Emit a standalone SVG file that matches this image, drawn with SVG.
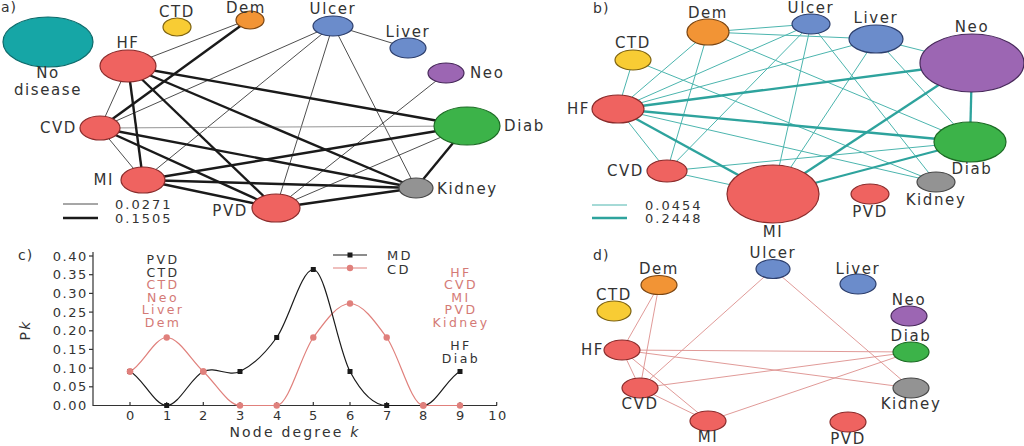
<svg xmlns="http://www.w3.org/2000/svg" width="1024" height="446" viewBox="0 0 1024 446">
<style>
text{font-family:"DejaVu Sans","Liberation Sans",sans-serif;fill:#333;}
.lb{font-size:15px;letter-spacing:1.6px;}
.pl{font-size:14px;letter-spacing:1px;}
.num{font-size:13px;letter-spacing:2px;}
.tk{font-size:13px;letter-spacing:1.6px;}
.ct{font-size:14px;letter-spacing:2.2px;}
.lg{font-size:13px;letter-spacing:2.4px;}
.st{font-size:12.5px;letter-spacing:2.4px;}
.m{text-anchor:middle;}
.e{text-anchor:end;}
.red{fill:#d47a76;}
.at{stroke:#3a3a3a;stroke-width:0.9;fill:none;}
.ak{stroke:#1a1a1a;stroke-width:2.4;fill:none;}
.bt{stroke:#4cb5ae;stroke-width:1;fill:none;}
.bk{stroke:#2ea39d;stroke-width:2.3;fill:none;}
.dt{stroke:#dc8f8c;stroke-width:0.9;fill:none;}
.nr{fill:#ef6360;stroke:#8a2b2b;stroke-width:1.2;}
.nt{fill:#16a6a6;stroke:#0c6a6a;stroke-width:1.2;}
.ny{fill:#f8cc34;stroke:#7d6210;stroke-width:1.2;}
.no{fill:#f29435;stroke:#7a4512;stroke-width:1.2;}
.nb{fill:#6b8ccb;stroke:#2c3e6c;stroke-width:1.2;}
.np{fill:#9c66b3;stroke:#47285a;stroke-width:1.2;}
.ng{fill:#3cb349;stroke:#1c6a24;stroke-width:1.2;}
.nk{fill:#939393;stroke:#484848;stroke-width:1.2;}
.ax{stroke:#333;stroke-width:1.2;fill:none;}
.md{stroke:#1a1a1a;stroke-width:1.2;fill:none;}
.cd{stroke:#e0807c;stroke-width:1.2;fill:none;}
</style>

<!-- Panel a -->
<text class="pl" x="1" y="12">a)</text>
<g id="a-connectors">
<line class="at" x1="250" y1="19" x2="128" y2="66"/>
<line class="at" x1="333" y1="25" x2="408" y2="48"/>
<line class="at" x1="333" y1="25" x2="100" y2="128"/>
<line class="at" x1="333" y1="25" x2="143" y2="180"/>
<line class="at" x1="333" y1="25" x2="276" y2="208"/>
<line class="at" x1="333" y1="25" x2="416" y2="188"/>
<line class="at" x1="446" y1="73" x2="276" y2="208"/>
<line class="at" x1="128" y1="66" x2="100" y2="128"/>
<line class="at" x1="100" y1="128" x2="467" y2="126" style="stroke:#888"/>
<line class="at" x1="100" y1="128" x2="143" y2="180"/>
<line class="at" x1="276" y1="208" x2="467" y2="126"/>
<line class="ak" x1="250" y1="19" x2="100" y2="128"/>
<line class="ak" x1="128" y1="66" x2="143" y2="180"/>
<line class="ak" x1="128" y1="66" x2="276" y2="208"/>
<line class="ak" x1="128" y1="66" x2="416" y2="188"/>
<line class="ak" x1="128" y1="66" x2="467" y2="126"/>
<line class="ak" x1="100" y1="128" x2="276" y2="208"/>
<line class="ak" x1="100" y1="128" x2="416" y2="188"/>
<line class="ak" x1="143" y1="180" x2="467" y2="126"/>
<line class="ak" x1="143" y1="180" x2="416" y2="188"/>
<line class="ak" x1="143" y1="180" x2="276" y2="208"/>
<line class="ak" x1="276" y1="208" x2="416" y2="188"/>
<line class="ak" x1="467" y1="126" x2="416" y2="188"/>
<line class="at" x1="63" y1="204" x2="98" y2="204"/>
<line class="ak" x1="63" y1="218" x2="98" y2="218"/>
</g>
<text class="num" x="115" y="209">0.0271</text>
<text class="num" x="115" y="223">0.1505</text>
<g id="a-nodisease"><ellipse class="nt" cx="48" cy="42" rx="45" ry="25"/><text class="lb m" x="48" y="78">No</text><text class="lb m" x="48" y="95">disease</text></g>
<g id="a-ctd"><ellipse class="ny" cx="177" cy="27" rx="14" ry="9"/><text class="lb m" x="177" y="17">CTD</text></g>
<g id="a-dem"><ellipse class="no" cx="250" cy="20" rx="14" ry="9"/><text class="lb m" x="246" y="13">Dem</text></g>
<g id="a-ulcer"><ellipse class="nb" cx="333" cy="26" rx="20" ry="10"/><text class="lb m" x="333" y="14">Ulcer</text></g>
<g id="a-liver"><ellipse class="nb" cx="408" cy="48" rx="18" ry="10"/><text class="lb m" x="408" y="37">Liver</text></g>
<g id="a-neo"><ellipse class="np" cx="446" cy="73" rx="18" ry="10"/><text class="lb" x="470" y="78">Neo</text></g>
<g id="a-hf"><ellipse class="nr" cx="128" cy="66" rx="28" ry="16"/><text class="lb m" x="128" y="48">HF</text></g>
<g id="a-cvd"><ellipse class="nr" cx="100" cy="128" rx="20" ry="12"/><text class="lb e" x="77" y="133">CVD</text></g>
<g id="a-mi"><ellipse class="nr" cx="143" cy="180" rx="22" ry="13"/><text class="lb e" x="114" y="185">MI</text></g>
<g id="a-pvd"><ellipse class="nr" cx="276" cy="208" rx="24" ry="14"/><text class="lb e" x="248" y="216">PVD</text></g>
<g id="a-diab"><ellipse class="ng" cx="467" cy="126" rx="33" ry="19"/><text class="lb" x="504" y="131">Diab</text></g>
<g id="a-kidney"><ellipse class="nk" cx="416" cy="188" rx="17" ry="10"/><text class="lb" x="437" y="194">Kidney</text></g>

<!-- Panel b -->
<text class="pl" x="593" y="13">b)</text>
<g id="b-connectors">
<line class="bt" x1="618" y1="109" x2="633" y2="60"/>
<line class="bt" x1="618" y1="109" x2="708" y2="32"/>
<line class="bt" x1="618" y1="109" x2="811" y2="24"/>
<line class="bt" x1="618" y1="109" x2="876" y2="39"/>
<line class="bt" x1="618" y1="109" x2="936" y2="182"/>
<line class="bt" x1="618" y1="109" x2="667" y2="171"/>
<line class="bt" x1="633" y1="60" x2="936" y2="182"/>
<line class="bt" x1="708" y1="32" x2="811" y2="24"/>
<line class="bt" x1="708" y1="32" x2="876" y2="39"/>
<line class="bt" x1="708" y1="32" x2="970" y2="142"/>
<line class="bt" x1="708" y1="32" x2="667" y2="171"/>
<line class="bt" x1="811" y1="24" x2="667" y2="171"/>
<line class="bt" x1="811" y1="24" x2="773" y2="194"/>
<line class="bt" x1="811" y1="24" x2="936" y2="182"/>
<line class="bt" x1="876" y1="39" x2="972" y2="63"/>
<line class="bt" x1="876" y1="39" x2="970" y2="142"/>
<line class="bt" x1="876" y1="39" x2="773" y2="194"/>
<line class="bt" x1="667" y1="171" x2="970" y2="142"/>
<line class="bt" x1="667" y1="171" x2="773" y2="194"/>
<line class="bk" x1="618" y1="109" x2="972" y2="63"/>
<line class="bk" x1="618" y1="109" x2="970" y2="142"/>
<line class="bk" x1="618" y1="109" x2="773" y2="194"/>
<line class="bk" x1="972" y1="63" x2="773" y2="194"/>
<line class="bk" x1="972" y1="63" x2="970" y2="142"/>
<line class="bk" x1="773" y1="194" x2="970" y2="142"/>
<line class="bt" x1="592" y1="205" x2="627" y2="205"/>
<line class="bk" x1="592" y1="218" x2="627" y2="218"/>
</g>
<text class="num" x="645" y="210">0.0454</text>
<text class="num" x="645" y="223">0.2448</text>
<g id="b-dem"><ellipse class="no" cx="708" cy="32" rx="21" ry="13"/><text class="lb m" x="708" y="18">Dem</text></g>
<g id="b-ulcer"><ellipse class="nb" cx="811" cy="24" rx="19" ry="10"/><text class="lb m" x="811" y="13">Ulcer</text></g>
<g id="b-liver"><ellipse class="nb" cx="876" cy="39" rx="27" ry="14"/><text class="lb m" x="876" y="23">Liver</text></g>
<g id="b-neo"><ellipse class="np" cx="972" cy="63" rx="52" ry="29"/><text class="lb m" x="972" y="32">Neo</text></g>
<g id="b-ctd"><ellipse class="ny" cx="633" cy="60" rx="18" ry="10"/><text class="lb m" x="633" y="48">CTD</text></g>
<g id="b-hf"><ellipse class="nr" cx="618" cy="109" rx="26" ry="14"/><text class="lb e" x="590" y="114">HF</text></g>
<g id="b-cvd"><ellipse class="nr" cx="667" cy="171" rx="20" ry="11"/><text class="lb e" x="644" y="176">CVD</text></g>
<g id="b-mi"><ellipse class="nr" cx="773" cy="194" rx="46" ry="29"/><text class="lb m" x="773" y="237">MI</text></g>
<g id="b-pvd"><ellipse class="nr" cx="870" cy="194" rx="19" ry="10"/><text class="lb m" x="870" y="217">PVD</text></g>
<g id="b-diab"><ellipse class="ng" cx="970" cy="142" rx="36" ry="20"/><text class="lb m" x="972" y="174">Diab</text></g>
<g id="b-kidney"><ellipse class="nk" cx="936" cy="182" rx="19" ry="10"/><text class="lb m" x="936" y="205">Kidney</text></g>

<!-- Panel c -->
<g id="c-chart">
<text class="pl" x="18" y="260">c)</text>
<path class="ax" d="M93,252 V405.5 H497"/>
<g class="ax">
<line x1="89" y1="256" x2="93" y2="256"/><line x1="89" y1="274.7" x2="93" y2="274.7"/><line x1="89" y1="293.4" x2="93" y2="293.4"/><line x1="89" y1="312.1" x2="93" y2="312.1"/><line x1="89" y1="330.8" x2="93" y2="330.8"/><line x1="89" y1="349.4" x2="93" y2="349.4"/><line x1="89" y1="368.1" x2="93" y2="368.1"/><line x1="89" y1="386.8" x2="93" y2="386.8"/>
<line x1="130" y1="405.5" x2="130" y2="402"/><line x1="166.7" y1="405.5" x2="166.7" y2="402"/><line x1="203.3" y1="405.5" x2="203.3" y2="402"/><line x1="240" y1="405.5" x2="240" y2="402"/><line x1="276.7" y1="405.5" x2="276.7" y2="402"/><line x1="313.3" y1="405.5" x2="313.3" y2="402"/><line x1="350" y1="405.5" x2="350" y2="402"/><line x1="386.7" y1="405.5" x2="386.7" y2="402"/><line x1="423.3" y1="405.5" x2="423.3" y2="402"/><line x1="460" y1="405.5" x2="460" y2="402"/><line x1="496.7" y1="405.5" x2="496.7" y2="402"/>
</g>
<g class="tk e">
<text x="88" y="260.5">0.40</text><text x="88" y="279.2">0.35</text><text x="88" y="297.9">0.30</text><text x="88" y="316.6">0.25</text><text x="88" y="335.3">0.20</text><text x="88" y="353.9">0.15</text><text x="88" y="372.6">0.10</text><text x="88" y="391.3">0.05</text><text x="88" y="410">0.00</text>
</g>
<g class="tk m">
<text x="131" y="420">0</text><text x="168" y="420">1</text><text x="204" y="420">2</text><text x="241" y="420">3</text><text x="278" y="420">4</text><text x="314" y="420">5</text><text x="351" y="420">6</text><text x="388" y="420">7</text><text x="424" y="420">8</text><text x="461" y="420">9</text><text x="498" y="420">10</text>
</g>
<text class="ct m" x="295" y="437">Node degree <tspan font-style="italic">k</tspan></text>
<text class="ct m" transform="translate(30,330) rotate(-90)">P<tspan font-style="italic">k</tspan></text>
<path class="cd" d="M130,371.5 C142.2,365.8 154.4,337.5 166.7,337.5 C178.9,337.5 191.1,360.2 203.3,371.5 C215.6,382.8 227.8,405.5 240,405.5 L276.7,405.5 C288.9,405.5 301.1,354.5 313.3,337.5 C325.6,320.5 337.8,303.5 350,303.5 C362.2,303.5 374.4,320.5 386.7,337.5 C398.9,354.5 411.1,405.5 423.3,405.5 L460,405.5"/>
<path class="md" d="M130,371.5 C142.2,377.2 154.4,405.5 166.7,405.5 C178.9,405.5 191.1,377.2 203.3,371.5 C215.6,365.8 227.8,377.2 240,371.5 C252.2,365.8 264.4,354.5 276.7,337.5 C288.9,320.5 301.1,269.5 313.3,269.5 C325.6,269.5 337.8,348.8 350,371.5 C362.2,394.2 374.4,405.5 386.7,405.5 L423.3,405.5 C435.6,405.5 447.8,377.2 460,371.5"/>
<g fill="#e0807c">
<circle cx="130" cy="371.5" r="3.2"/><circle cx="166.7" cy="337.5" r="3.2"/><circle cx="203.3" cy="371.5" r="3.2"/><circle cx="240" cy="405.5" r="3.2"/><circle cx="276.7" cy="405.5" r="3.2"/><circle cx="313.3" cy="337.5" r="3.2"/><circle cx="350" cy="303.5" r="3.2"/><circle cx="386.7" cy="337.5" r="3.2"/><circle cx="423.3" cy="405.5" r="3.2"/><circle cx="460" cy="405.5" r="3.2"/>
</g>
<g fill="#1a1a1a">
<rect x="127.5" y="369" width="5" height="5"/><rect x="164.2" y="403" width="5" height="5"/><rect x="237.5" y="369" width="5" height="5"/><rect x="274.2" y="335" width="5" height="5"/><rect x="310.8" y="267" width="5" height="5"/><rect x="347.5" y="369" width="5" height="5"/><rect x="384.2" y="403" width="5" height="5"/><rect x="457.5" y="369" width="5" height="5"/>
</g>
<circle cx="130" cy="371.5" r="3.2" fill="#e0807c"/><circle cx="203.3" cy="371.5" r="3.2" fill="#e0807c"/><circle cx="423.3" cy="405.5" r="3.2" fill="#e0807c"/>
<line class="md" x1="333" y1="255" x2="367" y2="255"/><rect x="347.5" y="252.5" width="5" height="5" fill="#1a1a1a"/>
<text class="lg" x="387" y="260">MD</text>
<line class="cd" x1="333" y1="268" x2="367" y2="268"/><circle cx="350" cy="268" r="3.2" fill="#e0807c"/>
<text class="lg" x="387" y="274">CD</text>
<g class="st m">
<text x="163" y="264">PVD</text><text x="163" y="276.5">CTD</text>
<text class="red" x="163" y="289">CTD</text><text class="red" x="163" y="301.5">Neo</text><text class="red" x="163" y="314">Liver</text><text class="red" x="163" y="326.5">Dem</text>
<text class="red" x="461" y="276.5">HF</text><text class="red" x="461" y="289">CVD</text><text class="red" x="461" y="301.5">MI</text><text class="red" x="461" y="314">PVD</text><text class="red" x="461" y="326.5">Kidney</text>
<text x="461" y="350">HF</text><text x="461" y="362.5">Diab</text>
</g>
</g>

<!-- Panel d -->
<text class="pl" x="593" y="260">d)</text>
<g id="d-connectors">
<line class="dt" x1="659" y1="285" x2="622" y2="350"/>
<line class="dt" x1="659" y1="285" x2="640" y2="388"/>
<line class="dt" x1="622" y1="350" x2="640" y2="388"/>
<line class="dt" x1="622" y1="350" x2="708" y2="421"/>
<line class="dt" x1="622" y1="350" x2="911" y2="352"/>
<line class="dt" x1="622" y1="350" x2="911" y2="388"/>
<line class="dt" x1="640" y1="388" x2="708" y2="421"/>
<line class="dt" x1="640" y1="388" x2="773" y2="269"/>
<line class="dt" x1="640" y1="388" x2="911" y2="352"/>
<line class="dt" x1="708" y1="421" x2="911" y2="352"/>
<line class="dt" x1="773" y1="269" x2="911" y2="388"/>
</g>
<g id="d-dem"><ellipse class="no" cx="659" cy="285" rx="18" ry="9.5"/><text class="lb m" x="659" y="274">Dem</text></g>
<g id="d-ctd"><ellipse class="ny" cx="614" cy="311" rx="17" ry="10"/><text class="lb m" x="614" y="300">CTD</text></g>
<g id="d-ulcer"><ellipse class="nb" cx="773" cy="269" rx="17" ry="9.5"/><text class="lb m" x="773" y="258">Ulcer</text></g>
<g id="d-liver"><ellipse class="nb" cx="858" cy="284" rx="18" ry="10"/><text class="lb m" x="858" y="274">Liver</text></g>
<g id="d-neo"><ellipse class="np" cx="909" cy="316" rx="18" ry="10"/><text class="lb m" x="909" y="305">Neo</text></g>
<g id="d-diab"><ellipse class="ng" cx="911" cy="352" rx="18" ry="10"/><text class="lb m" x="911" y="341">Diab</text></g>
<g id="d-hf"><ellipse class="nr" cx="622" cy="350" rx="18" ry="10"/><text class="lb e" x="604" y="355">HF</text></g>
<g id="d-cvd"><ellipse class="nr" cx="640" cy="388" rx="18" ry="10"/><text class="lb m" x="640" y="409">CVD</text></g>
<g id="d-mi"><ellipse class="nr" cx="708" cy="421" rx="18" ry="10"/><text class="lb m" x="708" y="442">MI</text></g>
<g id="d-pvd"><ellipse class="nr" cx="848" cy="422" rx="18" ry="10"/><text class="lb m" x="848" y="444">PVD</text></g>
<g id="d-kidney"><ellipse class="nk" cx="911" cy="388" rx="18" ry="10"/><text class="lb m" x="911" y="409">Kidney</text></g>
</svg>
